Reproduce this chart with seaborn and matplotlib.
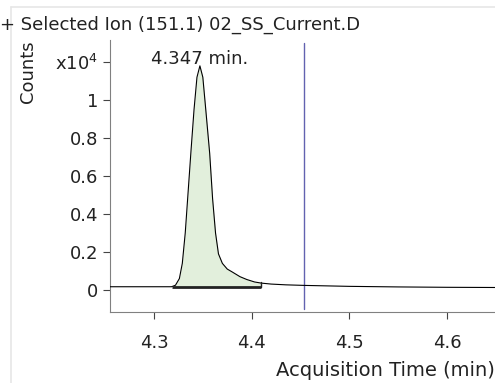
import matplotlib
matplotlib.use("Agg")
import matplotlib.pyplot as plt
import numpy as np
import pandas as pd
import seaborn as sns

# ---------------- data (counts in x10^4) ----------------
times = [4.255, 4.300, 4.318, 4.322, 4.326, 4.329, 4.332, 4.335, 4.338, 4.341,
         4.344, 4.347, 4.350, 4.353, 4.357, 4.360, 4.363, 4.366, 4.370, 4.375,
         4.380, 4.388, 4.395, 4.403, 4.410, 4.420, 4.435, 4.454, 4.500, 4.550,
         4.600, 4.650]
counts = [0.017, 0.017, 0.017, 0.025, 0.060, 0.140, 0.300, 0.520, 0.740, 0.950,
          1.120, 1.180, 1.120, 0.950, 0.720, 0.480, 0.300, 0.190, 0.140, 0.110,
          0.095, 0.070, 0.055, 0.042, 0.036, 0.031, 0.027, 0.024, 0.019, 0.016,
          0.014, 0.013]

baseline = 0.017
peak_start = 4.318
peak_end = 4.410
marker_time = 4.454
peak_label = "4.347 min."
peak_time = 4.347

x_ticks = [4.3, 4.4, 4.5, 4.6]
y_ticks = [0, 0.2, 0.4, 0.6, 0.8, 1.0, 1.2]
y_ticklabels = ["0", "0.2", "0.4", "0.6", "0.8", "1", "x10$^4$"]

df = pd.DataFrame({"time": times, "counts": counts})

# ---------------- figure ----------------
sns.set_style("ticks")
plt.rcParams["font.family"] = ["DejaVu Sans"]

fig = plt.figure(figsize=(4.95, 3.83), dpi=100)
ax = fig.add_axes([110 / 495, 1 - 312 / 383, 1 - 110 / 495, (312 - 40) / 383])

# peak area
pk = df[(df.time >= peak_start) & (df.time <= peak_end)]
ax.fill_between(pk.time, baseline, pk.counts, color="#e2efdc", lw=0, zorder=1)

sns.lineplot(data=df, x="time", y="counts", color="black", lw=0.8, ax=ax, zorder=3)

# integration baseline
ax.plot([peak_start, peak_end], [baseline, baseline], color="#222222", lw=2, zorder=4,
        solid_capstyle="butt")
ax.plot([peak_end, peak_end], [baseline, 0.04], color="#222222", lw=1, zorder=4)

ax.axvline(marker_time, ymax=0.99, ymin=0.01, color="#6262b0", lw=1, zorder=2)

ax.text(peak_time, 1.215, peak_label, ha="center", va="center", fontsize=13,
        color="#222222")

ax.set_xlim(4.255, 4.649)
ax.set_ylim(-0.116, 1.316)
ax.set_xticks(x_ticks)
ax.set_yticks(y_ticks)
ax.set_yticklabels(y_ticklabels)
ax.set_xlabel("")
ax.set_ylabel("")

for s in ["top", "right"]:
    ax.spines[s].set_visible(False)
for s in ["left", "bottom"]:
    ax.spines[s].set_color("#808080")
ax.tick_params(direction="out", length=5, color="#444444", labelsize=13,
               labelcolor="#222222")
ax.tick_params(axis="x", pad=11)

# labels
fig.text(0, 1 - 25 / 383, "+ Selected Ion (151.1) 02_SS_Current.D", ha="left",
         va="center", fontsize=13, color="#222222")
fig.text(28 / 495, 1 - 72 / 383, "Counts", rotation=90, ha="center", va="center",
         fontsize=13, color="#222222")
fig.text(1, 1 - 370 / 383, "Acquisition Time (min)", ha="right", va="center",
         fontsize=14, color="#222222")

# outer frame
fig.add_artist(plt.Line2D([11 / 495, 11 / 495], [0, 1 - 7 / 383],
                          transform=fig.transFigure, color="#e6e6e6", lw=1.2))
fig.add_artist(plt.Line2D([11 / 495, 1], [1 - 7 / 383, 1 - 7 / 383],
                          transform=fig.transFigure, color="#e6e6e6", lw=1.2))

fig.savefig("out.png", dpi=100)
